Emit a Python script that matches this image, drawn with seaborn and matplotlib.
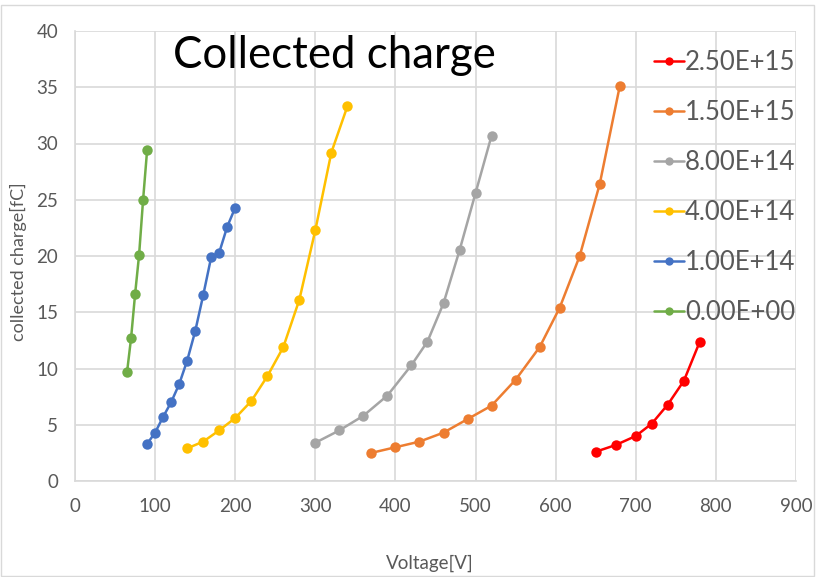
import matplotlib
matplotlib.use("Agg")
import matplotlib.pyplot as plt
import pandas as pd
import seaborn as sns

# ---- data ----
series_labels = ["2.50E+15", "1.50E+15", "8.00E+14", "4.00E+14", "1.00E+14", "0.00E+00"]
colors = ["#FF0000", "#ED7D31", "#A5A5A5", "#FFC000", "#4472C4", "#70AD47"]

v_250e15 = [650, 675, 700, 720, 740, 760, 780]
q_250e15 = [2.6, 3.2, 4.0, 5.1, 6.8, 8.9, 12.4]

v_150e15 = [370, 400, 430, 460, 490, 520, 550, 580, 605, 630, 655, 680]
q_150e15 = [2.5, 3.0, 3.5, 4.3, 5.5, 6.7, 9.0, 11.9, 15.4, 20.0, 26.4, 35.1]

v_800e14 = [300, 330, 360, 390, 420, 440, 460, 480, 500, 520]
q_800e14 = [3.4, 4.5, 5.8, 7.6, 10.3, 12.4, 15.8, 20.5, 25.6, 30.7]

v_400e14 = [140, 160, 180, 200, 220, 240, 260, 280, 300, 320, 340]
q_400e14 = [2.9, 3.5, 4.5, 5.6, 7.1, 9.3, 11.9, 16.1, 22.3, 29.2, 33.3]

v_100e14 = [90, 100, 110, 120, 130, 140, 150, 160, 170, 180, 190, 200]
q_100e14 = [3.3, 4.3, 5.7, 7.0, 8.6, 10.7, 13.3, 16.5, 19.9, 20.3, 22.6, 24.3]

v_000e00 = [65, 70, 75, 80, 85, 90]
q_000e00 = [9.7, 12.7, 16.6, 20.1, 25.0, 29.4]

x_ticks = [0, 100, 200, 300, 400, 500, 600, 700, 800, 900]
y_ticks = [0, 5, 10, 15, 20, 25, 30, 35, 40]

volts = [v_250e15, v_150e15, v_800e14, v_400e14, v_100e14, v_000e00]
charges = [q_250e15, q_150e15, q_800e14, q_400e14, q_100e14, q_000e00]

frames = []
for lab, v, q in zip(series_labels, volts, charges):
    frames.append(pd.DataFrame({"Voltage": v, "Charge": q, "Fluence": lab}))
df = pd.concat(frames, ignore_index=True)

# ---- style ----
sns.set_style("white")
plt.rcParams["font.family"] = ["Lato", "DejaVu Sans"]

W, H = 816, 577
fig = plt.figure(figsize=(W / 100, H / 100), dpi=100)
ax = fig.add_axes([75 / W, 1 - 481 / H, (796 - 75) / W, (481 - 31) / H])

sns.lineplot(data=df, x="Voltage", y="Charge", hue="Fluence",
             hue_order=series_labels, palette=colors, marker="o",
             markersize=7.5, markeredgewidth=0, linewidth=1.8,
             sort=False, estimator=None, ax=ax, legend=True)

ax.set_xlim(0, 900)
ax.set_ylim(0, 40)
ax.set_xticks(x_ticks)
ax.set_yticks(y_ticks)
ax.grid(True, color="#D9D9D9", linewidth=1.2)
ax.set_axisbelow(True)
for s in ["top", "right"]:
    ax.spines[s].set_visible(False)
for s in ["left", "bottom"]:
    ax.spines[s].set_color("#D9D9D9")
    ax.spines[s].set_linewidth(1.2)
ax.tick_params(axis="both", length=0, labelsize=13.5, colors="#595959", pad=12)

ax.set_xlabel("")
ax.set_ylabel("")
fig.text(430 / W, 1 - 563 / H, "Voltage[V]", ha="center", va="center",
         fontsize=13.5, color="#595959")
fig.text(18 / W, 1 - 262 / H, "collected charge[fC]", ha="center", va="center",
         rotation=90, fontsize=13, color="#595959")

fig.text(173 / W, 1 - 56 / H, "Collected charge", ha="left", va="center",
         fontsize=31.5, color="black")

handles, labels = ax.get_legend_handles_labels()
ax.get_legend().remove()
leg = fig.legend(handles, labels, loc="upper left",
                 bbox_to_anchor=(644 / W, 1 - 40 / H), frameon=False,
                 fontsize=18.5, labelspacing=0.97, handlelength=1.15,
                 handletextpad=0.05, borderaxespad=0)
for t in leg.get_texts():
    t.set_color("#595959")
for h in leg.legend_handles:
    h.set_markersize(6)

# outer chart border
fig.add_artist(plt.Rectangle((1 / W, 1 / H), (W - 3) / W, (H - 6) / H,
                             transform=fig.transFigure, fill=False,
                             edgecolor="#D9D9D9", linewidth=1))

fig.savefig("out.png", dpi=100)
